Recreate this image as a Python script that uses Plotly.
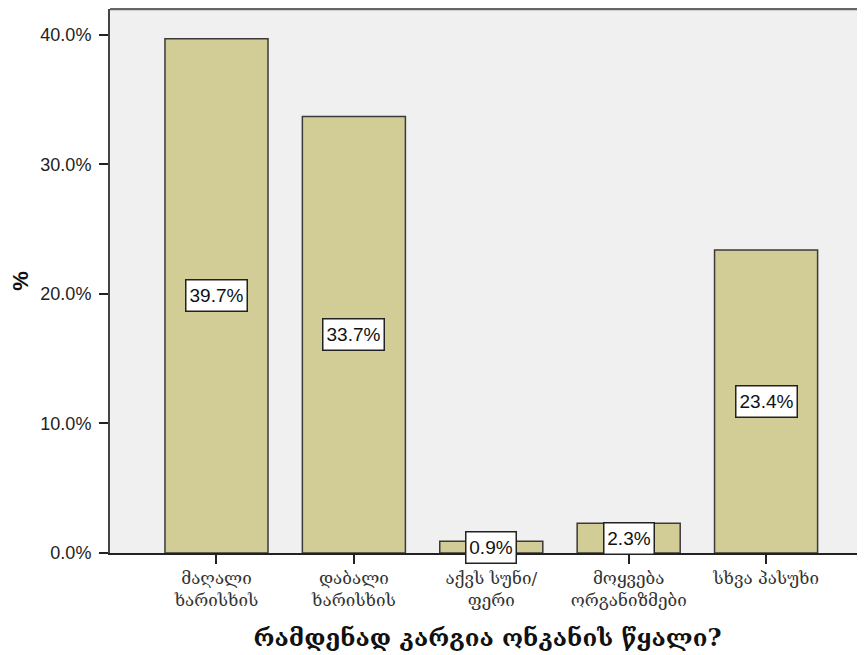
import plotly.graph_objects as go

categories = ["მაღალი ხარისხის", "დაბალი ხარისხის", "აქვს სუნი/ფერი",
              "მოყვება ორგანიზმები", "სხვა პასუხი"]
tick_labels = ["მაღალი<br>ხარისხის", "დაბალი<br>ხარისხის", "აქვს სუნი/<br>ფერი",
               "მოყვება<br>ორგანიზმები", "სხვა პასუხი"]
percent_values = [39.7, 33.7, 0.9, 2.3, 23.4]
y_ticks = [0, 10, 20, 30, 40]
y_tick_labels = ["0.0%", "10.0%", "20.0%", "30.0%", "40.0%"]
x_title = "რამდენად კარგია ონკანის წყალი?"
y_title = "%"

fig = go.Figure()
fig.add_trace(go.Bar(
    x=categories, y=percent_values, width=0.75,
    marker=dict(color="#D2CD97", line=dict(color="#3a3a3a", width=1.5)),
    hoverinfo="skip",
))

for c, v in zip(categories, percent_values):
    txt = f"{v:.1f}%"
    fig.add_annotation(
        x=c, y=v / 2, xref="x", yref="y", text=txt, showarrow=False,
        font=dict(family="Liberation Sans, Arial", size=19, color="#111"),
        bgcolor="white", bordercolor="#222", borderwidth=1.5, borderpad=2,
        width=11 * len(txt) + 1, height=26,
    )

# page body has an 8px margin, so the figure is 8px smaller than the window
fig.update_layout(
    width=857, height=647,
    margin=dict(l=102, r=0, t=1, b=102, autoexpand=False),
    paper_bgcolor="white", plot_bgcolor="#F0F0F0",
    showlegend=False, bargap=0.25,
    font=dict(family="Liberation Sans, Arial", color="#222"),
)
fig.update_xaxes(
    type="category", categoryorder="array", categoryarray=categories,
    range=[-0.775, 4.72], automargin=False,
    tickvals=categories, ticktext=tick_labels,
    tickfont=dict(family="DejaVu Serif, DejaVu Sans", size=17, color="#333"),
    ticks="outside", ticklen=9, tickwidth=1.5, tickcolor="#222",
    showline=True, linecolor="#222", linewidth=1.5, mirror=False,
    showgrid=False, zeroline=False,
    title=dict(text=x_title, font=dict(family="DejaVu Serif, DejaVu Sans", size=24, color="#111", weight="bold"),
               standoff=20),
)
fig.update_yaxes(
    range=[0, 42.0], tickvals=y_ticks, ticktext=y_tick_labels, automargin=False,
    tickfont=dict(family="Liberation Sans, Arial", size=18, color="#222"),
    ticks="outside", ticklen=9, tickwidth=1.5, tickcolor="#222",
    ticklabelstandoff=4,
    showline=True, linecolor="#444", linewidth=2, mirror=False,
    showgrid=False, zeroline=False,
    title=dict(text=y_title, font=dict(family="Liberation Sans, Arial", size=22, color="#111", weight="bold"),
               standoff=8),
)
# top frame line
fig.add_shape(type="line", xref="paper", yref="paper", x0=0, x1=1, y0=1, y1=1,
              line=dict(color="#666", width=2.5))

fig.write_html("out.html")
